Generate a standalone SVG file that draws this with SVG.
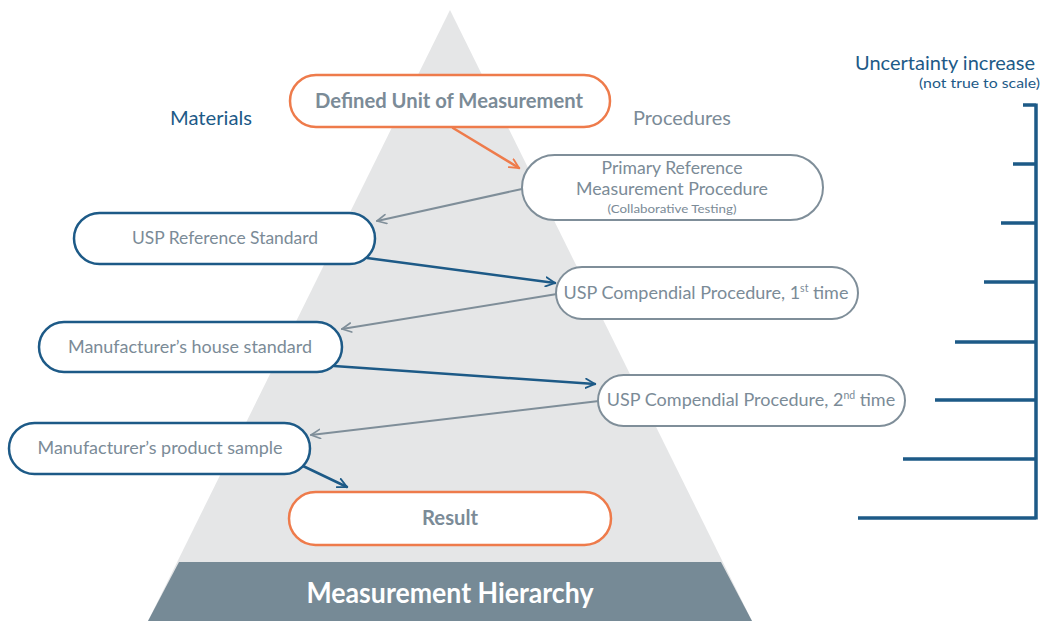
<svg xmlns="http://www.w3.org/2000/svg" width="1042" height="621" viewBox="0 0 1042 621">
<style>
.t{font-family:Lato,"Open Sans","Liberation Sans",sans-serif;fill:#7b8b97;text-anchor:middle}
.n{font-size:18px}
.b{font-weight:bold;font-size:20px}
.mat{fill:#fff;stroke:#1d5a87;stroke-width:2.5}
.proc{fill:#fff;stroke:#7f8e99;stroke-width:2}
.key{fill:#fff;stroke:#ee7b4b;stroke-width:2.5}
.c{fill:none;stroke-linecap:round}
.cb{stroke:#1d5a87;stroke-width:2.5}
.cg{stroke:#7f8e99;stroke-width:2}
.co{stroke:#ee7b4b;stroke-width:2.5}
.sc{stroke:#1d5a87;stroke-width:3.5;fill:none}
</style>
<defs>
<marker id="ab" viewBox="0 0 12 12" refX="11" refY="6" markerWidth="11" markerHeight="11" markerUnits="userSpaceOnUse" orient="auto"><path d="M1,1 L11,6 L1,11" fill="none" stroke="#1d5a87" stroke-width="2" stroke-linecap="round" stroke-linejoin="round"/></marker>
<marker id="ag" viewBox="0 0 12 12" refX="11" refY="6" markerWidth="11" markerHeight="11" markerUnits="userSpaceOnUse" orient="auto"><path d="M1,1 L11,6 L1,11" fill="none" stroke="#7f8e99" stroke-width="1.8" stroke-linecap="round" stroke-linejoin="round"/></marker>
<marker id="ao" viewBox="0 0 12 12" refX="11" refY="6" markerWidth="11" markerHeight="11" markerUnits="userSpaceOnUse" orient="auto"><path d="M1,1 L11,6 L1,11" fill="none" stroke="#ee7b4b" stroke-width="2" stroke-linecap="round" stroke-linejoin="round"/></marker>
</defs>
<rect width="1042" height="621" fill="#ffffff"/>
<g id="pyramid">
<polygon points="450,10 752,621 148,621" fill="#e5e6e7"/>
<polygon points="179,562 721,562 752,621 148,621" fill="#768a96"/>
<text x="450" y="603" text-anchor="middle" font-family="Lato,'Open Sans','Liberation Sans',sans-serif" font-weight="bold" font-size="28" fill="#ffffff" textLength="287" lengthAdjust="spacingAndGlyphs">Measurement Hierarchy</text>
</g>
<g id="headers">
<text x="211" y="125" text-anchor="middle" font-family="Lato,'Open Sans','Liberation Sans',sans-serif" font-size="20" fill="#1d5a87" textLength="82" lengthAdjust="spacingAndGlyphs">Materials</text>
<text x="682" y="125" text-anchor="middle" font-family="Lato,'Open Sans','Liberation Sans',sans-serif" font-size="20" fill="#7b8b97" textLength="98" lengthAdjust="spacingAndGlyphs">Procedures</text>
</g>
<g id="scale">
<text x="945" y="70" text-anchor="middle" font-family="Lato,'Open Sans','Liberation Sans',sans-serif" font-size="19" fill="#1d5a87" textLength="180" lengthAdjust="spacingAndGlyphs">Uncertainty increase</text>
<text x="1040" y="88" text-anchor="end" font-family="Lato,'Open Sans','Liberation Sans',sans-serif" font-size="13" fill="#1d5a87" textLength="121" lengthAdjust="spacingAndGlyphs">(not true to scale)</text>
<path class="sc" d="M1036,103.5 V519.5 M1023,105 H1036 M1013,164 H1036 M1001,223 H1036 M984,282 H1036 M955,342 H1036 M935,400 H1036 M903,459 H1036 M858,518 H1036"/>
</g>
<g id="connectors">
<path class="c co" d="M453,128 L519,168" marker-end="url(#ao)"/>
<path class="c cg" d="M522,189 L377,221" marker-end="url(#ag)"/>
<path class="c cb" d="M367,258 L555,283" marker-end="url(#ab)"/>
<path class="c cg" d="M557,294 L342,329" marker-end="url(#ag)"/>
<path class="c cb" d="M334,366 L595,384" marker-end="url(#ab)"/>
<path class="c cg" d="M599,401 L311,435" marker-end="url(#ag)"/>
<path class="c cb" d="M303,466 L347,487" marker-end="url(#ab)"/>
</g>
<g id="n-defined">
<rect class="key" x="290" y="75" width="320" height="52" rx="26"/>
<text class="t b" x="449" y="108" textLength="268" lengthAdjust="spacingAndGlyphs">Defined Unit of Measurement</text>
</g>
<g id="n-primary">
<rect class="proc" x="522" y="155" width="301" height="65" rx="32.5"/>
<text class="t n" x="672" y="174" textLength="141" lengthAdjust="spacingAndGlyphs">Primary Reference</text>
<text class="t n" x="672" y="195" textLength="192" lengthAdjust="spacingAndGlyphs">Measurement Procedure</text>
<text class="t" x="672" y="213" font-size="12" textLength="129" lengthAdjust="spacingAndGlyphs">(Collaborative Testing)</text>
</g>
<g id="n-uspref">
<rect class="mat" x="74" y="213" width="301" height="51" rx="25.5"/>
<text class="t n" x="225" y="244" textLength="186" lengthAdjust="spacingAndGlyphs">USP Reference Standard</text>
</g>
<g id="n-comp1">
<rect class="proc" x="556" y="267" width="302" height="52" rx="26"/>
<text class="t n" x="706" y="299">USP Compendial Procedure, 1<tspan font-size="10.5" dy="-7">st</tspan><tspan dy="7"> time</tspan></text>
</g>
<g id="n-house">
<rect class="mat" x="39" y="322" width="303" height="50" rx="25"/>
<text class="t n" x="190" y="353" textLength="244" lengthAdjust="spacingAndGlyphs">Manufacturer’s house standard</text>
</g>
<g id="n-comp2">
<rect class="proc" x="598" y="375" width="307" height="51" rx="25.5"/>
<text class="t n" x="751" y="406">USP Compendial Procedure, 2<tspan font-size="10.5" dy="-7">nd</tspan><tspan dy="7"> time</tspan></text>
</g>
<g id="n-product">
<rect class="mat" x="9" y="423" width="301" height="51" rx="25.5"/>
<text class="t n" x="160" y="454" textLength="245" lengthAdjust="spacingAndGlyphs">Manufacturer’s product sample</text>
</g>
<g id="n-result">
<rect class="key" x="289" y="492" width="322" height="53" rx="26.5"/>
<text class="t b" x="450" y="525" textLength="56" lengthAdjust="spacingAndGlyphs">Result</text>
</g>
</svg>
